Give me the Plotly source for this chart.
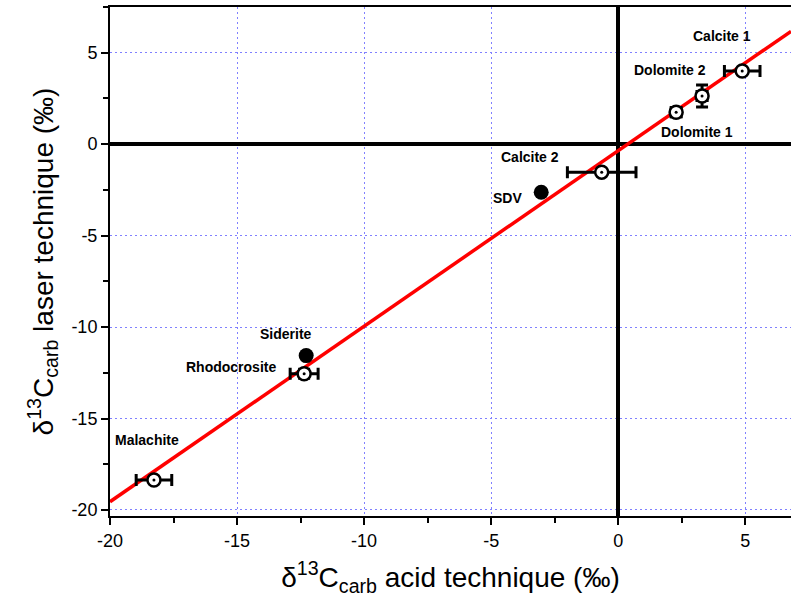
import plotly.graph_objects as go

# data
names = ["Calcite 1", "Dolomite 2", "Dolomite 1", "Calcite 2", "Rhodocrosite", "Malachite"]
acid = [4.88, 3.3, 2.28, -0.65, -12.36, -18.27]
laser = [4.0, 2.63, 1.75, -1.53, -12.55, -18.36]
acid_err = [0.7, 0.2, 0.2, 1.35, 0.55, 0.7]
laser_err = [0.15, 0.6, 0.25, 0.1, 0.25, 0.15]

filled_names = ["SDV", "Siderite"]
filled_acid = [-3.03, -12.28]
filled_laser = [-2.63, -11.56]

fit_x = [-20.0, 6.8]
fit_y = [-19.55, 6.17]

label_names = ["Calcite 1", "Dolomite 2", "Dolomite 1", "Calcite 2", "SDV", "Siderite", "Rhodocrosite", "Malachite"]
label_x = [4.1, 2.05, 3.1, -3.46, -4.37, -13.07, -15.24, -18.54]
label_y = [5.9, 4.05, 0.66, -0.71, -2.96, -10.36, -12.2, -16.2]

tick_vals = [-20, -15, -10, -5, 0, 5]
tick_text = ["-20", "-15", "-10", "-5", "0", "5"]

FONT = "Liberation Sans, Arial, sans-serif"

fig = go.Figure()

fig.add_trace(go.Scatter(x=fit_x, y=fit_y, mode="lines",
                         line=dict(color="#ff0000", width=3.5), showlegend=False))

fig.add_trace(go.Scatter(
    x=acid, y=laser, mode="markers",
    marker=dict(symbol="circle", size=13, color="white", line=dict(width=2.5, color="black")),
    error_x=dict(type="data", array=acid_err, color="black", thickness=3, width=6),
    error_y=dict(type="data", array=laser_err, color="black", thickness=3, width=6),
    showlegend=False))

fig.add_trace(go.Scatter(
    x=acid, y=laser, mode="markers",
    marker=dict(symbol="circle", size=3, color="black"),
    showlegend=False))

fig.add_trace(go.Scatter(
    x=filled_acid, y=filled_laser, mode="markers",
    marker=dict(symbol="circle", size=15, color="black"),
    showlegend=False))

for n, lx, ly in zip(label_names, label_x, label_y):
    fig.add_annotation(x=lx, y=ly, xref="x", yref="y", text=n,
                       showarrow=False, xanchor="center", yanchor="middle",
                       font=dict(family=FONT, size=14, color="black", weight="bold"))

axis_common = dict(
    showline=True, linecolor="black", linewidth=2,
    ticks="outside", ticklen=7, tickwidth=1.5, tickcolor="black",
    tickvals=tick_vals, ticktext=tick_text,
    tickfont=dict(family=FONT, size=18, color="black"),
    showgrid=True, gridcolor="#8080ff", griddash="2px,3px", gridwidth=1,
    zeroline=True, zerolinecolor="black", zerolinewidth=3.5,
    minor=dict(ticks="outside", ticklen=5, tickwidth=1.5, tickcolor="black", dtick=2.5, tick0=0, showgrid=False),
)

fig.update_xaxes(range=[-20, 6.8], mirror=True,
                 title=dict(text="δ<sup>13</sup>C<sub>carb</sub> acid technique (‰)",
                            font=dict(family=FONT, size=28, color="black"), standoff=18),
                 **axis_common)
fig.update_yaxes(range=[-20.33, 7.5], mirror=False,
                 title=dict(text="δ<sup>13</sup>C<sub>carb</sub> laser technique (‰)",
                            font=dict(family=FONT, size=28, color="black"), standoff=10),
                 **axis_common)

fig.update_layout(width=791, height=612, margin=dict(l=110, r=0, t=7, b=96),
                  plot_bgcolor="white", paper_bgcolor="white")

fig.write_html("out.html")
